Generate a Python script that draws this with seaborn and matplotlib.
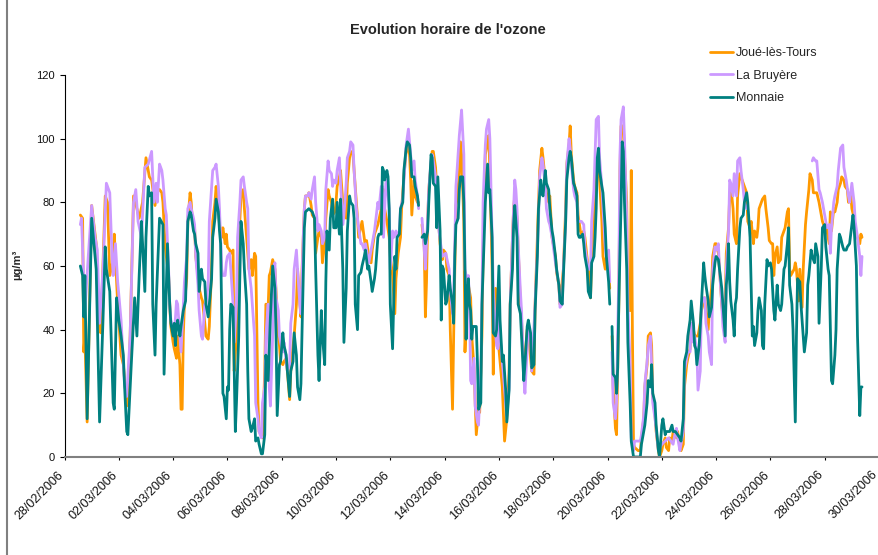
import numpy as np
import pandas as pd
import matplotlib
matplotlib.use('Agg')
import matplotlib.pyplot as plt
import matplotlib.dates as mdates
from matplotlib.lines import Line2D
from matplotlib.transforms import ScaledTranslation
import seaborn as sns

nan = np.nan
start = pd.Timestamp('2006-02-28 00:00')

# hourly ozone, hours counted from 28/02/2006 00:00 (nan = missing measurement)
monnaie_h = [14, 16, 17, 18, 20, 24, 28, 30, 31, 34, 36, 37, 40, 43, 44, 46, 48, 50, 52, 53,
             55, 56, 59, 62, 64, 66, 68, 69, 71, 72, 74, 75, 77, 78, 80, 81, 84, 87, 88, 91,
             93, 94, 96, 97, 98, 99, 100, 102, 103, 105, 107, 109, 111, 112, 114, 115, 116, 118, 119, 121,
             122, 124, 125, 127, 128, 130, 131, 133, 134, 136, 137, 138, 140, 141, 143, 144, 145, 146, 147, 149,
             150, 151, 152, 154, 155, 156, 158, 159, 161, 162, 163, 165, 166, 168, 169, 171, 172, 174, 175, 177,
             178, 180, 182, 184, 186, 187, 188, 190, 191, 193, 194, 196, 197, 199, 200, 202, 203, 205, 206, 208,
             209, 210, 212, 213, 216, 219, 221, 222, 224, 225, 227, 228, 230, 231, 232, 234, 235, 237, 238, 240,
             241, 243, 244, 246, 247, 249, 250, 252, 253, 255, 256, 257, 259, 260, 262, 263, 265, 266, 268, 269,
             271, 272, 274, 275, 277, 278, 280, 281, 282, 283, 285, 286, 287, 288, 290, 291, 292, 293, 294, 296,
             297, 299, 300, 302, 303, 305, 306, 307, 309, 310, 312, 313, 314, 316, 318, 319, 321, 322, 324, 325,
             326, 328, 329, 330, 332, 333, 334, 335, 337, 338, 340, 341, 343, 344, 345, 346, 348, 349, 350, 352,
             353, 354, 355, 356, 357, 358, 359, 360, 361, 363, 364, 365, 366, 368, 369, 371, 372, 374, 375, 376,
             378, 379, 381, 382, 384, 385, 387, 388, 390, 391, 393, 394, 396, 397, 398, 400, 401, 403, 404, 406,
             407, 409, 410, 412, 413, 415, 416, 418, 419, 421, 422, 423, 425, 426, 428, 429, 431, 432, 434, 435,
             437, 438, 440, 441, 443, 444, 446, 447, 448, 450, 451, 453, 454, 455, 456, 458, 459, 460, 462, 463,
             465, 466, 468, 469, 470, 471, 472, 473, 475, 476, 478, 479, 481, 482, 483, 484, 485, 487, 488, 489,
             490, 492, 493, 494, 495, 497, 498, 500, 501, 503, 507, 509, 510, 512, 513, 515, 516, 518, 519, 520,
             522, 523, 525, 526, 528, 529, 531, 532, 535, 537, 538, 540, 542, 544, 545, 547, 548, 550, 551, 553,
             554, 556, 557, 558, 559, 561, 562, 563, 565, 566, 567, 569, 570, 572, 573, 575, 576, 578, 579, 581,
             582, 584, 585, 586, 587, 588, 589, 591, 592, 593, 594, 595, 597, 598, 600, 601, 603, 604, 606, 607,
             608, 609, 610, 612, 613, 614, 616, 617, 618, 619, 621, 622, 624, 625, 627, 628, 630, 631, 633, 634,
             636, 637, 639, 640, 641, 643, 644, 646, 647, 648, 650, 651, 653, 654, 656, 657, 658, 660, 661, 663,
             664, 666, 667, 669, 670, 672, 673, 675, 676, 678, 679, 681, 682, 683, 685, 686, 688, 689, 691, 692,
             694, 695, 697, 698, 700, 701, 703, 704, 705]
monnaie_v = [60, 57, 44, 57, 12, 75, 59, 27, 11, 43, 66, 59, 52, 17, 15, 50, 43, 38, 32, 23,
             8, 7, 29, 50, 38, 57, 74, 67, 52, 69, 85, 82, 83, 48, 32, 48, 75, 73, 26, 67,
             48, 42, 38, 42, 35, 41, 43, 38, 41, 46, 49, 74, 77, 76, 71, 70, 67, 64, 52, 59,
             56, 55, 48, 44, 48, 56, 69, 75, 81, 77, 71, 67, 20, 19, 12, 22, 21, 40, 48, 47,
             27, 8, 17, 38, 57, 74, 67, 59, 48, 27, 12, 8, 9, 12, 5, 6, 4, 1, 1, 7,
             32, 24, 44, 60, 53, 38, 13, 29, 30, 39, 35, 32, 27, 19, 27, 30, 39, 32, 22, 18,
             23, 40, 72, 77, 78, 77, 75, 59, 32, 24, 46, 38, 29, 55, 71, 65, 75, 81, 72, 72,
             80, 70, 81, 59, 36, 53, 71, 82, 80, 79, 75, 48, 40, 57, 58, 60, 63, 65, 59, 60,
             55, 52, 56, 59, 69, 70, 70, 91, 90, 87, 90, 88, 78, 48, 34, 48, 63, 59, 69, 70,
             78, 80, 90, 97, 99, 98, 94, 88, 88, 85, 82, 79, nan, 69, 70, 67, 71, 80, 95, 94,
             86, 85, 72, 88, 71, 43, 60, 59, 48, 49, 57, 53, 48, 42, 63, 73, 75, 84, 88, 88,
             80, 59, 37, 50, 56, 48, 46, 37, 41, 41, 41, 30, 15, 17, 48, 69, 80, 92, 83, 84,
             69, 39, 38, 40, 60, 43, 30, 32, 21, 11, 21, 48, 59, 73, 79, 69, 48, 45, 38, 24,
             29, 41, 43, 39, 28, 29, 46, 63, 78, 87, 83, 82, 90, 86, 84, 78, 71, 69, 63, 59,
             54, 49, 48, 57, 74, 87, 94, 96, 94, 86, 85, 82, 70, 69, 69, 70, 67, 63, 59, 52,
             50, 61, 63, 69, 78, 94, 97, 90, 85, 83, 72, 63, 55, 48, nan, 41, 26, 25, 20, 28,
             48, 80, 99, 96, 80, 59, 36, 17, 5, 0, 0, 0, 4, 8, 10, 17, 24, 22, 29, 20,
             17, 10, 2, 0, 10, 12, 7, 8, 8, 10, 8, 8, 7, 6, 5, 12, 30, 33, 38, 43,
             49, 42, 35, 34, 29, 35, 41, 48, 61, 57, 54, 49, 44, 47, 54, 61, 63, 62, 59, 53,
             48, 38, 54, 58, 67, 55, 49, 43, 38, 48, 50, 59, 72, 75, 76, 80, 83, 80, 69, 53,
             38, 41, 35, 39, 46, 50, 46, 35, 34, 48, 62, 60, 61, 59, 46, 43, 54, 48, 46, 48,
             59, 60, 67, 72, 54, 48, 40, 11, 38, 56, 55, 48, 38, 33, 39, 54, 57, 65, 63, 61,
             67, 63, 42, 60, 72, 73, 66, 59, 57, 24, 23, 32, 40, 59, 70, 69, 66, 65, 65, 66,
             67, 70, 76, 72, 60, 38, 13, 22, 22]

joue_h = [14, 16, 17, 18, 20, 24, 28, 30, 32, 34, 36, 38, 40, 43, 44, 47, 50, 52, 55, 56,
          58, 61, 64, 66, 69, 72, 75, 77, 80, 82, 84, 86, 87, 89, 90, 92, 93, 94, 96, 97,
          99, 100, 102, 103, 104, 105, 106, 108, 109, 111, 112, 113, 115, 116, 118, 119, 121, 122, 124, 125,
          127, 128, 130, 131, 133, 134, 136, 137, 139, 140, 142, 143, 144, 146, 147, 149, 150, 152, 153, 155,
          156, 158, 159, 161, 162, 163, 165, 166, 168, 169, 171, 172, 174, 175, 177, 178, 180, 181, 182, 184,
          186, 187, 189, 190, 191, 193, 194, 196, 197, 199, 200, 202, 203, 205, 206, 208, 209, 210, 212, 213,
          215, 216, 218, 219, 221, 222, 224, 225, 227, 228, 230, 231, 233, 234, 236, 237, 239, 240, 241, 243,
          244, 246, 247, 249, 250, 252, 253, 255, 256, 257, 259, 260, 263, 266, 267, 269, 271, 272, 274, 277,
          280, 282, 283, 285, 287, 288, 290, 292, 293, 295, 297, 298, 300, 302, 303, 305, 306, 307, 309, 310,
          312, 313, 314, 316, 318, 319, 320, 321, 322, 324, 325, 326, 328, 329, 331, 332, 334, 335, 337, 338,
          340, 341, 343, 344, 346, 347, 349, 350, 351, 353, 354, 356, 357, 359, 360, 362, 364, 366, 367, 369,
          370, 372, 373, 375, 376, 378, 379, 380, 381, 383, 385, 387, 389, 391, 393, 394, 396, 397, 398, 400,
          403, 404, 406, 407, 409, 410, 413, 415, 416, 418, 420, 422, 423, 426, 428, 429, 431, 432, 434, 435,
          437, 438, 441, 443, 444, 446, 447, 448, 450, 451, 453, 454, 456, 457, 459, 460, 463, 465, 466, 468,
          469, 471, 472, 473, 475, 476, 478, 479, 481, 482, 483, 484, 485, 487, 488, 490, 491, 492, 494, 495,
          497, 498, 500, 501, 502, 503, 504, 507, 509, 510, 512, 513, 515, 516, 518, 519, 520, 522, 523, 525,
          526, 528, 529, 531, 532, 534, 535, 537, 538, 540, 541, 542, 544, 545, 547, 548, 550, 551, 553, 554,
          556, 557, 560, 562, 563, 566, 567, 569, 570, 572, 573, 575, 576, 578, 579, 581, 582, 584, 585, 587,
          588, 589, 591, 592, 594, 595, 597, 598, 600, 601, 603, 604, 606, 607, 609, 610, 612, 613, 614, 616,
          617, 619, 620, 622, 623, 625, 626, 627, 628, 630, 631, 633, 634, 636, 637, 639, 640, 641, 642, 645,
          646, 647, 649, 650, 652, 653, 655, 656, 658, 659, 661, 662, 664, 665, 667, 668, 670, 671, 673, 674,
          676, 677, 678, 680, 681, 683, 684, 686, 687, 689, 690, 692, 693, 695, 696, 698, 699, 701, 703, 704,
          705]
joue_v = [76, 75, 33, 38, 11, 79, 67, 42, 39, 60, 82, 80, 57, 62, 70, 48, 32, 29, 16, 18,
          38, 82, 78, 75, 80, 94, 88, 87, 79, 84, 84, 83, 80, 66, 63, 57, 48, 41, 36, 34,
          31, 38, 29, 15, 15, 38, 48, 56, 74, 83, 80, 74, 72, 63, 57, 53, 50, 49, 42, 38,
          37, 41, 59, 74, 80, 85, 78, 73, 69, 72, 67, 70, 66, 65, 64, 65, 27, 38, 59, 74,
          82, 84, 78, 69, 64, 59, 62, 57, 64, 63, 17, 8, 7, 6, 27, 48, 47, 57, 58, 62,
          59, 52, 38, 35, 30, 29, 30, 31, 27, 18, 27, 35, 38, 48, 59, 48, 44, 59, 78, 82,
          82, 83, 79, 76, 75, 64, 69, 71, 69, 61, 67, 75, 84, 82, 80, 76, 77, 80, 85, 88,
          90, 80, 78, 75, 86, 94, 96, 95, 90, 85, 75, 69, 74, 66, 68, 63, 61, 65, 70, 73,
          78, 84, 78, 74, 69, 63, 57, 45, 56, 64, 69, 78, 88, 96, 98, 95, 87, 76, 87, 82,
          80, 80, nan, 73, 66, 44, 55, 74, 84, 92, 96, 96, 91, 85, 72, 67, 62, 65, 64, 59,
          57, 40, 15, 38, 79, 81, 89, 99, 95, 74, 33, 50, 54, 50, 38, 28, 7, 15, 14, 38,
          64, 95, 97, 101, 90, 59, 26, 52, 53, 38, 30, 22, 5, 12, 27, 48, 69, 78, 82, 75,
          48, 43, 27, 31, 40, 39, 27, 26, 48, 69, 90, 97, 94, 83, 80, 82, 69, 67, 63, 58,
          54, 48, 59, 78, 92, 98, 104, 95, 87, 85, 83, 76, 71, 70, 71, 69, 59, 50, 63, 74,
          82, 90, 95, 87, 74, 63, 59, 63, 59, 53, nan, 38, 22, 9, 7, 48, 90, 104, 104, 95,
          80, 46, 46, 90, 40, 4, 3, 2, 2, 6, 12, 22, 29, 38, 39, 35, 19, 13, 8, 2,
          0, 2, 4, 6, 3, 2, 6, 5, 8, 7, 6, 8, 3, 2, 4, 22, 29, 31, 34, 42,
          40, 38, 38, 42, 46, 50, 46, 40, 46, 53, 63, 67, 67, 64, 59, 48, 44, 48, 64, 72,
          82, 85, 78, 70, 67, 82, 89, 88, 86, 85, 83, 74, 72, 74, 67, 71, 69, 72, 78, 80,
          81, 82, 78, 72, 68, 67, 67, 57, 63, 66, 61, 62, 69, 71, 72, 77, 78, 59, 57, 59,
          61, 59, 49, 59, 47, 59, 73, 77, 84, 89, 87, 83, 83, 83, 80, 78, 74, 73, 73, 71,
          67, 77, 71, 78, 77, 80, 84, 86, 88, 87, 85, 84, 80, 83, 78, 75, 71, 69, 67, 70,
          69]

bruyere_h = [14, 15, 18, 21, 24, 27, 29, 31, 34, 37, 40, 42, 43, 45, 47, 50, 53, 55, 58, 61,
             63, 65, 68, 71, 74, 77, 79, 81, 82, 84, 86, 87, 89, 90, 92, 93, 94, 96, 97, 99,
             100, 102, 103, 105, 106, 108, 109, 111, 112, 114, 115, 116, 118, 119, 121, 122, 124, 125, 127, 128,
             130, 131, 133, 134, 136, 137, 139, 140, 142, 143, 144, 146, 147, 149, 150, 152, 153, 155, 156, 158,
             159, 161, 162, 163, 165, 166, 168, 169, 171, 172, 174, 175, 177, 178, 180, 181, 182, 184, 185, 186,
             187, 189, 190, 191, 193, 194, 196, 197, 199, 200, 202, 203, 205, 206, 208, 209, 211, 212, 213, 215,
             216, 218, 219, 221, 222, 224, 225, 227, 228, 230, 231, 233, 234, 236, 237, 238, 240, 241, 243, 244,
             246, 247, 249, 250, 252, 253, 255, 256, 258, 259, 260, 262, 263, 265, 266, 268, 269, 271, 274, 277,
             278, 280, 281, 282, 284, 285, 287, 288, 290, 291, 293, 294, 296, 297, 299, 302, 304, 306, 307, 309,
             310, 312, 313, 314, 316, 318, 319, 321, 322, 324, 325, 326, 328, 329, 331, 334, 337, 340, 341, 343,
             344, 346, 347, 349, 350, 351, 353, 354, 356, 357, 358, 359, 360, 362, 363, 365, 366, 368, 369, 370,
             372, 373, 375, 376, 378, 379, 381, 382, 383, 384, 385, 387, 390, 391, 393, 394, 396, 398, 399, 400,
             401, 403, 404, 406, 407, 409, 410, 412, 413, 416, 419, 420, 422, 423, 425, 426, 428, 429, 431, 434,
             437, 438, 440, 441, 443, 444, 446, 447, 448, 450, 451, 453, 454, 457, 459, 460, 463, 465, 466, 468,
             469, 470, 472, 473, 475, 476, 478, 479, 481, 482, 483, 484, 485, 487, 488, 490, 491, 492, 494, 495,
             497, 498, 500, 501, 503, 504, 509, 510, 512, 513, 515, 516, 518, 519, 520, 522, 525, 528, 531, 534,
             538, 540, 541, 542, 544, 545, 547, 548, 551, 553, 554, 556, 557, 559, 560, 562, 563, 565, 566, 567,
             569, 570, 572, 573, 575, 576, 578, 579, 581, 582, 584, 585, 587, 588, 589, 591, 592, 594, 595, 597,
             598, 600, 601, 603, 604, 661, 662, 664, 665, 667, 668, 670, 671, 673, 674, 676, 677, 678, 680, 681,
             683, 684, 686, 688, 689, 691, 693, 694, 696, 698, 699, 701, 703, 704, 705]
bruyere_v = [73, 75, 46, 63, 79, 69, 65, 42, 59, 86, 83, 63, 57, 67, 55, 43, 23, 19, 38, 80,
             84, 74, 69, 91, 92, 96, 80, 86, 80, 92, 90, 87, 78, 76, 59, 48, 43, 40, 38, 49,
             48, 38, 33, 48, 55, 63, 78, 80, 78, 75, 73, 63, 54, 46, 38, 37, 48, 48, 54, 74,
             85, 90, 91, 92, 85, 78, 59, 57, 57, 61, 63, 64, 59, 48, 36, 48, 69, 80, 87, 88,
             85, 80, 78, 59, 53, 48, 38, 17, 12, 8, 6, 17, 22, 38, 48, 22, 16, 38, 59, 61,
             50, 46, 38, 36, 33, 36, 30, 27, 29, 42, 48, 59, 65, 59, 48, 45, 69, 78, 82, 82,
             83, 81, 84, 88, 80, 71, 73, 71, 67, 69, 84, 93, 90, 89, 85, 87, 86, 90, 94, 86,
             73, 76, 86, 94, 96, 99, 98, 90, 78, 75, 72, 67, 67, 65, 67, 63, 61, 65, 71, 80,
             78, 85, 85, 69, 86, 87, 78, 59, 71, 69, 71, 69, 71, 78, 81, 98, 103, 95, 90, 93,
             87, 82, 78, nan, 75, 65, 59, 75, 84, 93, 95, 93, 88, 78, 71, 63, 64, 59, 52, 45,
             50, 85, 90, 101, 105, 109, 95, 59, 55, 57, 48, 24, 23, 31, 16, 11, 10, 27, 48, 80,
             98, 103, 106, 100, 69, 53, 39, 35, 34, 48, 38, 30, 17, 13, 22, 48, 69, 87, 84, 78,
             67, 52, 46, 25, 20, 34, 42, 38, 27, 48, 74, 88, 94, 92, 85, 78, 74, 73, 69, 61,
             54, 47, 48, 59, 74, 92, 100, 97, 92, 84, 82, 80, 74, 74, 73, 66, 59, 59, 74, 84,
             95, 106, 107, 94, 85, 78, 66, 63, 65, 55, nan, 33, 17, 12, 17, 59, 95, 106, 110, 100,
             74, 48, 29, 6, 2, 5, 5, 7, 13, 23, 30, 35, 38, 29, 17, 12, 2, 4, 5, 6,
             4, 8, 9, 6, 2, 4, 8, 27, 33, 33, 42, 36, 38, 33, 21, 27, 48, 50, 50, 42,
             38, 33, 29, 59, 66, 65, 67, 59, 48, 41, 36, 59, 71, 87, 86, 82, 89, 82, 93, 94,
             90, 84, 80, 78, nan, 93, 94, 93, 93, 84, 83, 80, 78, 74, 72, 73, 64, 72, 80, 82,
             85, 90, 97, 98, 91, 87, 82, 80, 86, 80, 74, 69, 63, 57, 63]

sns.set_style('white')
plt.rcParams['font.family'] = ['Liberation Sans', 'DejaVu Sans']

fig = plt.figure(figsize=(8.79, 5.55), dpi=100)
ax = fig.add_axes([0.0734, 0.1766, 0.9266, 0.6883])

series = [('Joué-lès-Tours', joue_h, joue_v, '#FF9900'),
          ('La Bruyère', bruyere_h, bruyere_v, '#CC99FF'),
          ('Monnaie', monnaie_h, monnaie_v, '#008080')]

handles = []
for name, hrs, vals, col in series:
    df = pd.DataFrame({'date': start + pd.to_timedelta(hrs, unit='h'), 'ozone': vals})
    piece = df.ozone.isna().cumsum()
    ok = df.ozone.notna()
    # draw each uninterrupted stretch separately so missing hours stay as gaps
    for _, part in df[ok].groupby(piece[ok]):
        sns.lineplot(data=part, x='date', y='ozone', color=col, lw=2,
                     estimator=None, errorbar=None, legend=False, ax=ax)
    handles.append(Line2D([], [], color=col, lw=2, label=name))

ax.set_xlim(start, start + pd.Timedelta(days=30))
ax.set_ylim(0, 120)
ax.set_yticks(range(0, 121, 20))
ax.set_xticks(pd.date_range('2006-02-28', '2006-03-30', freq='2D'))
ax.xaxis.set_major_formatter(mdates.DateFormatter('%d/%m/%Y'))
ax.set_xlabel('')
ax.set_ylabel('')
ax.tick_params(axis='both', direction='out', width=0.8, color='black',
               labelcolor='#111111', bottom=True, left=True)
ax.tick_params(axis='x', length=2.5, pad=9, labelsize=9)
ax.tick_params(axis='y', length=3.5, pad=3.5, labelsize=8)
shift = ScaledTranslation(-3 / 100, 0, fig.dpi_scale_trans)
for lab in ax.get_xticklabels():
    lab.set_rotation(45)
    lab.set_ha('right')
    lab.set_va('center')
    lab.set_rotation_mode('anchor')
    lab.set_transform(lab.get_transform() + shift)

for side in ['top', 'right']:
    ax.spines[side].set_visible(False)
ax.spines['left'].set_color('black')
ax.spines['left'].set_linewidth(0.8)
ax.spines['bottom'].set_color('#808080')
ax.spines['bottom'].set_linewidth(1.5)

fig.text(0.5097, 1 - 30 / 555, "Evolution horaire de l'ozone", fontsize=10.5,
         fontweight='bold', ha='center', va='center')
fig.text(17 / 879, 1 - 265 / 555, 'µg/m³', fontsize=8, fontweight='bold',
         rotation=90, ha='center', va='center')

fig.legend(handles=handles, loc='upper left', bbox_to_anchor=(0.8077, 0.9146),
           frameon=False, fontsize=9, handlelength=1.84, handletextpad=0.24,
           labelspacing=0.82, borderpad=0, borderaxespad=0)

fig.add_artist(Line2D([0.008, 0.008], [0, 1], color='#808080', lw=1.5))

fig.savefig('out.png', dpi=100)
